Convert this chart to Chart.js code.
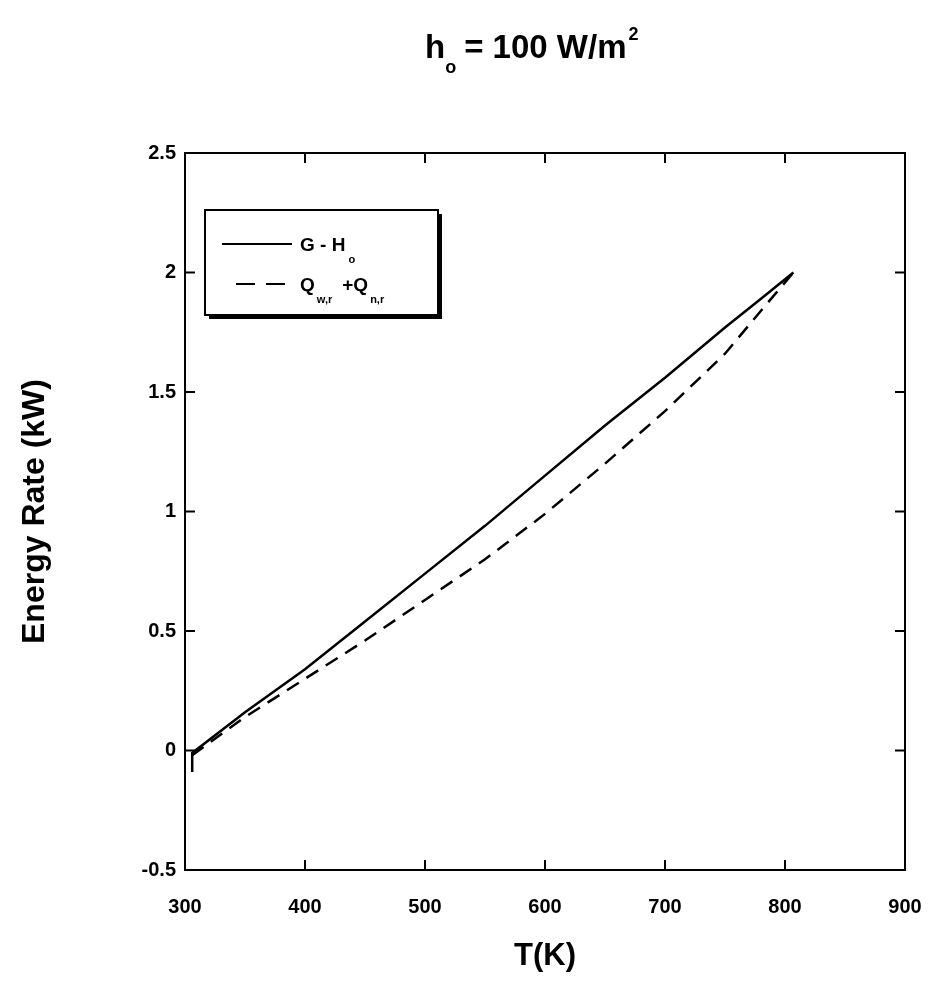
<!DOCTYPE html>
<html>
<head>
<meta charset="utf-8">
<script src="https://cdn.jsdelivr.net/npm/chart.js@4.4.0/dist/chart.umd.min.js"></script>
<style>
  html, body { margin: 0; padding: 0; background: #fff; }
  #wrap { width: 932px; height: 1005px; }
</style>
</head>
<body>
<div id="wrap"><canvas id="energyChart" width="932" height="1005"></canvas></div>
<script>
// G - Ho (solid)
const tempSolid   = [306, 306, 350, 400, 450, 500, 550, 600, 650, 700, 750, 780, 807];
const energySolid = [-0.09, -0.01, 0.16, 0.34, 0.54, 0.74, 0.94, 1.15, 1.36, 1.56, 1.77, 1.89, 2.0];

// Qw,r + Qn,r (dashed)
const tempDashed   = [306, 350, 400, 450, 500, 550, 600, 650, 700, 750, 780, 807];
const energyDashed = [-0.02, 0.14, 0.30, 0.46, 0.63, 0.80, 0.99, 1.20, 1.42, 1.66, 1.84, 2.0];

const xTicks = [300, 400, 500, 600, 700, 800, 900];
const yTicks = [-0.5, 0, 0.5, 1, 1.5, 2, 2.5];

const FONT = "'Liberation Sans', Arial, sans-serif";

function toPoints(xs, ys) {
    return xs.map((x, i) => ({ x: x, y: ys[i] }));
}

// frame, inward ticks on all sides, title and legend
const decorations = {
    id: "decorations",
    afterDraw(chart) {
        const ctx = chart.ctx;
        const area = chart.chartArea;
        const xs = chart.scales.x;
        const ys = chart.scales.y;
        const tick = 10;

        ctx.save();
        ctx.strokeStyle = "#000";
        ctx.lineWidth = 2;
        ctx.strokeRect(area.left, area.top, area.right - area.left, area.bottom - area.top);

        ctx.beginPath();
        xTicks.forEach((v) => {
            const px = xs.getPixelForValue(v);
            ctx.moveTo(px, area.bottom); ctx.lineTo(px, area.bottom - tick);
            ctx.moveTo(px, area.top); ctx.lineTo(px, area.top + tick);
        });
        yTicks.forEach((v) => {
            const py = ys.getPixelForValue(v);
            ctx.moveTo(area.left, py); ctx.lineTo(area.left + tick, py);
            ctx.moveTo(area.right, py); ctx.lineTo(area.right - tick, py);
        });
        ctx.stroke();

        // title: h_o = 100 W/m^2
        ctx.fillStyle = "#000";
        ctx.textBaseline = "alphabetic";
        ctx.textAlign = "left";
        const big = "bold 33px " + FONT;
        const small = "bold 18px " + FONT;
        let x = 425;
        const base = 58;
        ctx.font = big;
        ctx.fillText("h", x, base);
        x += ctx.measureText("h").width;
        ctx.font = small;
        ctx.fillText("o", x, base + 15);
        x += ctx.measureText("o").width + 8;
        ctx.font = big;
        const mid = "= 100 W/m";
        ctx.fillText(mid, x, base);
        x += ctx.measureText(mid).width;
        ctx.font = small;
        ctx.fillText("2", x + 2, base - 18);

        // legend box with shadow
        const lx = 205, ly = 210, lw = 233, lh = 105;
        ctx.fillStyle = "#000";
        ctx.fillRect(lx + 4, ly + 4, lw, lh);
        ctx.fillStyle = "#fff";
        ctx.fillRect(lx, ly, lw, lh);
        ctx.strokeStyle = "#000";
        ctx.lineWidth = 2;
        ctx.strokeRect(lx, ly, lw, lh);

        const sets = chart.data.datasets;
        const rows = [ly + 34, ly + 74];
        const starts = [lx + 17, lx + 31];
        sets.forEach((ds, i) => {
            ctx.beginPath();
            ctx.setLineDash(ds.borderDash ? [19, 11] : []);
            ctx.lineWidth = 2;
            ctx.moveTo(starts[i], rows[i]);
            ctx.lineTo(lx + 87, rows[i]);
            ctx.stroke();
        });
        ctx.setLineDash([]);

        ctx.fillStyle = "#000";
        const lf = "bold 19px " + FONT;
        const sf = "bold 11px " + FONT;
        let tx = lx + 95;
        ctx.font = lf;
        ctx.fillText("G - H", tx, rows[0] + 7);
        tx += ctx.measureText("G - H").width;
        ctx.font = sf;
        ctx.fillText("o", tx + 3, rows[0] + 19);

        tx = lx + 95;
        ctx.font = lf;
        ctx.fillText("Q", tx, rows[1] + 7);
        tx += ctx.measureText("Q").width;
        ctx.font = sf;
        ctx.fillText("w,r", tx + 2, rows[1] + 19);
        tx += ctx.measureText("w,r").width + 12;
        ctx.font = lf;
        ctx.fillText("+Q", tx, rows[1] + 7);
        tx += ctx.measureText("+Q").width;
        ctx.font = sf;
        ctx.fillText("n,r", tx + 2, rows[1] + 19);
        ctx.restore();
    }
};

const ctx = document.getElementById("energyChart").getContext("2d");
new Chart(ctx, {
    type: "line",
    data: {
        datasets: [
            {
                label: "G - Ho",
                data: toPoints(tempSolid, energySolid),
                borderColor: "#000",
                borderWidth: 2.5,
                pointRadius: 0,
                fill: false,
                tension: 0
            },
            {
                label: "Qw,r + Qn,r",
                data: toPoints(tempDashed, energyDashed),
                borderColor: "#000",
                borderWidth: 2.5,
                borderDash: [14, 9],
                pointRadius: 0,
                fill: false,
                tension: 0
            }
        ]
    },
    options: {
        responsive: false,
        animation: false,
        devicePixelRatio: 1,
        layout: { padding: { top: 153, right: 27, left: 0, bottom: 0 } },
        plugins: {
            legend: { display: false },
            tooltip: { enabled: false },
            title: { display: false }
        },
        scales: {
            x: {
                type: "linear",
                min: 300,
                max: 900,
                afterBuildTicks: (scale) => { scale.ticks = xTicks.map((v) => ({ value: v })); },
                afterFit: (scale) => {
                    scale.height = 135;
                    scale.paddingLeft = 0;
                    scale.paddingRight = 0;
                },
                grid: { display: false, drawTicks: false },
                border: { display: false },
                ticks: {
                    color: "#000",
                    padding: 25,
                    maxRotation: 0,
                    callback: (v) => String(v),
                    font: { family: FONT, size: 20, weight: "bold" }
                },
                title: {
                    display: true,
                    text: "T(K)",
                    color: "#000",
                    padding: { top: 0, bottom: 30 },
                    font: { family: FONT, size: 31, weight: "bold" }
                }
            },
            y: {
                type: "linear",
                min: -0.5,
                max: 2.5,
                afterBuildTicks: (scale) => { scale.ticks = yTicks.map((v) => ({ value: v })); },
                afterFit: (scale) => { scale.width = 185; },
                grid: { display: false, drawTicks: false },
                border: { display: false },
                ticks: {
                    color: "#000",
                    padding: 9,
                    callback: (v) => String(v),
                    font: { family: FONT, size: 20, weight: "bold" }
                },
                title: {
                    display: true,
                    text: "Energy Rate (kW)",
                    color: "#000",
                    padding: { top: 16, bottom: 0 },
                    font: { family: FONT, size: 32, weight: "bold" }
                }
            }
        }
    },
    plugins: [decorations]
});
</script>
</body>
</html>
